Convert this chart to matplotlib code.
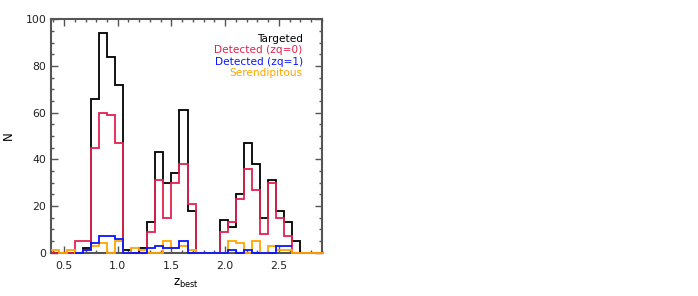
#!/usr/bin/env python
# -*- coding: utf-8 -*-

"""
Redshift histogram: targeted / detected / serendipitous sources
"""

import numpy as np
import matplotlib
matplotlib.use('Agg')
import matplotlib.pyplot as plt
from matplotlib.ticker import MultipleLocator

# bins in z_best
bin_start = 0.375
bin_width = 0.075

# counts per bin
targeted = [0, 0, 0, 0, 2, 66, 94, 84, 72, 1, 0, 2, 13, 43, 30, 34, 61, 18,
            0, 0, 0, 14, 11, 25, 47, 38, 15, 31, 18, 13, 5, 0, 0, 0]
detected_zq0 = [0, 0, 0, 5, 5, 45, 60, 59, 47, 0, 0, 0, 9, 31, 15, 30, 38, 21,
                0, 0, 0, 9, 13, 23, 36, 27, 8, 30, 15, 7, 0, 0, 0, 0]
detected_zq1 = [0, 0, 0, 0, 1, 4, 7, 7, 6, 0, 0, 0, 2, 3, 2, 2, 5, 0,
                0, 0, 0, 0, 1, 0, 1, 0, 0, 0, 3, 3, 0, 0, 0, 0]
serendipitous = [1, 0, 1, 0, 1, 3, 4, 0, 5, 0, 2, 1, 0, 0, 5, 2, 3, 1,
                 0, 0, 0, 0, 5, 4, 0, 5, 0, 3, 1, 1, 0, 0, 0, 0]

labels = ['Targeted', 'Detected (zq=0)', 'Detected (zq=1)', 'Serendipitous']
colors = ['black', '#e0224e', '#0a14ff', '#ffa500']

plt.rcParams['font.family'] = ['DejaVu Sans']

fig = plt.figure(figsize=(6.98, 2.96), dpi=100)
ax = fig.add_axes([0.0726, 0.1463, 0.3883, 0.7885])

edges = bin_start + bin_width * np.arange(len(targeted) + 1)

# the zq=1 histogram only covers part of the range
lo, hi = 3, 30
ax.stairs(targeted, edges, color=colors[0], linewidth=1.3, baseline=None,
          clip_on=False, zorder=3)
ax.stairs(detected_zq0, edges, color=colors[1], linewidth=1.3, baseline=None,
          clip_on=False, zorder=3)
ax.stairs(serendipitous, edges, color=colors[3], linewidth=1.3, baseline=None,
          clip_on=False, zorder=3)
ax.stairs(detected_zq1[lo:hi], edges[lo:hi + 1], color=colors[2], linewidth=1.3,
          baseline=None, clip_on=False, zorder=3)

ax.set_xlim(0.375, 2.9)
ax.set_ylim(0, 100)

ax.xaxis.set_major_locator(MultipleLocator(0.5))
ax.xaxis.set_minor_locator(MultipleLocator(0.1))
ax.yaxis.set_major_locator(MultipleLocator(20))
ax.yaxis.set_minor_locator(MultipleLocator(5))
ax.tick_params(which='both', direction='in', top=True, right=True,
               color='#555555', labelsize=7.8, width=1.0, labelcolor='#222222')
ax.tick_params(which='major', length=5)
ax.tick_params(which='minor', length=2.5)
ax.tick_params(axis='x', which='major', pad=6)
ax.tick_params(axis='y', which='major', pad=3)
ax.xaxis.set_major_formatter(plt.FuncFormatter(lambda v, p: f'{v:.1f}'))
ax.yaxis.set_major_formatter(plt.FuncFormatter(lambda v, p: f'{v:.0f}'))

for sp in ax.spines.values():
    sp.set_color('#555555')
    sp.set_linewidth(1.5)

ax.set_xlabel(r'z$_{\rm best}$', fontsize=8.5, labelpad=4)
ax.set_ylabel('N', fontsize=8.5, labelpad=8)

# legend as coloured text, right aligned
for k, (lab, c) in enumerate(zip(labels, colors)):
    ax.text(0.93, 0.914 - k * 0.0476, lab, color=c, fontsize=7.6,
            ha='right', va='center', transform=ax.transAxes)

fig.savefig('out.png', dpi=100)
